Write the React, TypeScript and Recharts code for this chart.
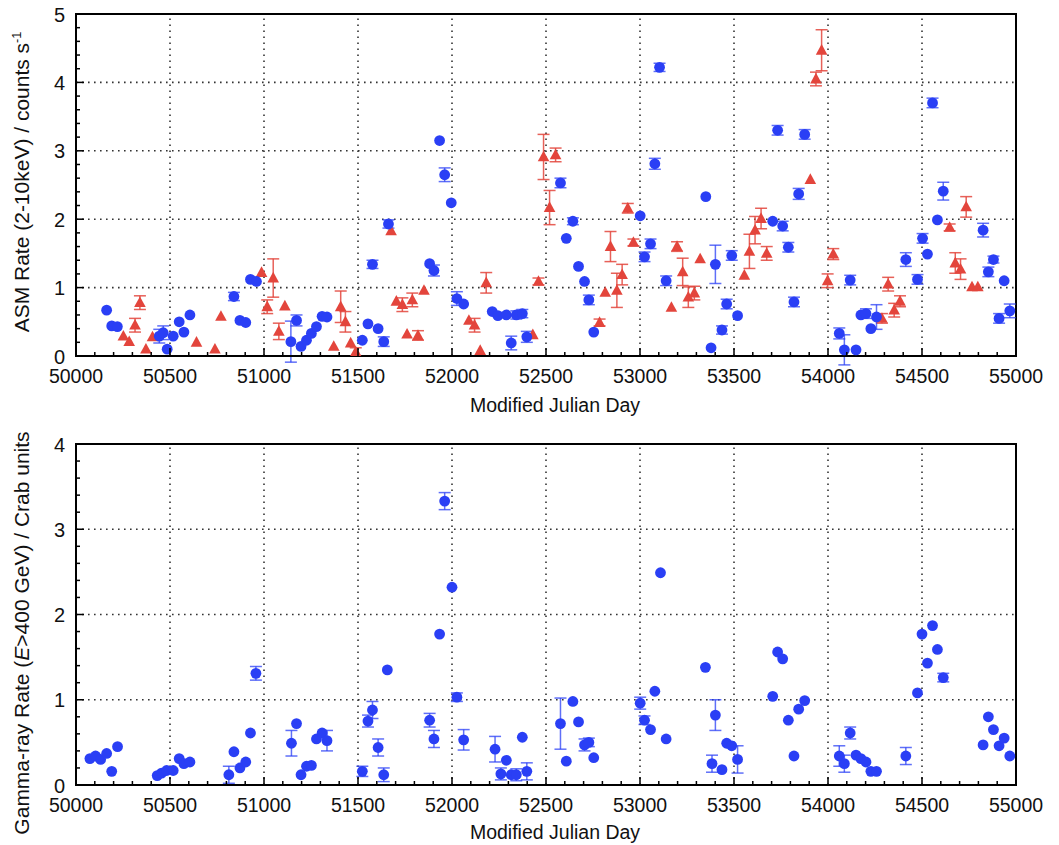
import {
  ErrorBar,
  ReferenceArea,
  ReferenceLine,
  Scatter,
  ScatterChart,
  XAxis,
  YAxis,
} from "recharts";

const FONT = "'Liberation Sans', Arial, Helvetica, sans-serif";
const BLUE = "#2a3ff5";
const RED = "#e3453c";

// ASM 2-10 keV rate, nights with TeV coverage (blue)
const asmBlueMjd = [
  50163, 50190, 50220, 50443, 50464, 50485, 50517, 50549, 50574, 50606,
  50840, 50872, 50903, 50928, 50960, 51143, 51173, 51197, 51226, 51252,
  51279, 51309, 51335, 51523, 51553, 51577, 51607, 51637, 51662, 51881,
  51904, 51934, 51961, 51996, 52026, 52062, 52214, 52244, 52289, 52315,
  52342, 52374, 52398, 52577, 52608, 52643, 52673, 52705, 52728, 52754,
  53001, 53024, 53056, 53079, 53104, 53139, 53350, 53378, 53401, 53436,
  53461, 53488, 53519, 53706, 53732, 53759, 53789, 53819, 53844, 53876,
  54060, 54087, 54118, 54149, 54175, 54202, 54228, 54258, 54414, 54476,
  54503, 54529, 54556, 54582, 54613, 54825, 54853, 54880, 54910, 54937,
  54967,
];
const asmBlueRate = [
  0.67, 0.44, 0.43, 0.29, 0.34, 0.1, 0.29, 0.5, 0.35, 0.6,
  0.87, 0.52, 0.49, 1.12, 1.09, 0.21, 0.52, 0.14, 0.23, 0.33,
  0.43, 0.58, 0.57, 0.23, 0.47, 1.34, 0.4, 0.21, 1.93, 1.35,
  1.25, 3.15, 2.65, 2.24, 0.84, 0.76, 0.65, 0.59, 0.6, 0.19,
  0.6, 0.62, 0.28, 2.53, 1.72, 1.97, 1.31, 1.09, 0.82, 0.35,
  2.05, 1.45, 1.64, 2.81, 4.22, 1.1, 2.33, 0.12, 1.34, 0.38,
  0.76, 1.47, 0.59, 1.97, 3.3, 1.9, 1.59, 0.79, 2.37, 3.24,
  0.33, 0.09, 1.11, 0.09, 0.6, 0.62, 0.4, 0.57, 1.41, 1.12,
  1.72, 1.49, 3.7, 1.99, 2.41, 1.84, 1.23, 1.41, 0.55, 1.1,
  0.66,
];
const asmBlueErr = [
  0, 0, 0, 0.1, 0.1, 0, 0, 0, 0, 0,
  0.06, 0, 0, 0, 0, 0.3, 0.08, 0, 0, 0,
  0, 0, 0, 0, 0, 0.06, 0, 0.07, 0.06, 0,
  0.08, 0, 0.1, 0, 0.1, 0, 0, 0, 0, 0.1,
  0.06, 0.06, 0.08, 0.07, 0, 0.05, 0, 0, 0.07, 0,
  0, 0.07, 0.07, 0.08, 0.06, 0.07, 0, 0, 0.28, 0.06,
  0.07, 0.07, 0, 0, 0.07, 0.07, 0.07, 0.07, 0.08, 0.07,
  0.08, 0.22, 0.07, 0, 0, 0.07, 0, 0.18, 0.1, 0.07,
  0.07, 0, 0.07, 0, 0.13, 0.1, 0.07, 0.05, 0.07, 0,
  0.1,
];

// ASM 2-10 keV rate, remaining nights (red)
const asmRedMjd = [
  50252, 50283, 50314, 50340, 50372, 50407, 50641, 50739, 50771, 50987,
  51017, 51049, 51079, 51111, 51371, 51408, 51433, 51461, 51488, 51676,
  51704, 51736, 51761, 51789, 51819, 51851, 52090, 52120, 52150, 52182,
  52430, 52460, 52487, 52519, 52551, 52785, 52815, 52843, 52877, 52905,
  52935, 52965, 53167, 53197, 53227, 53257, 53289, 53320, 53555, 53582,
  53612, 53644, 53674, 53906, 53936, 53966, 53998, 54028, 54287, 54320,
  54352, 54383, 54647, 54677, 54705, 54735, 54766, 54797,
];
const asmRedRate = [
  0.29, 0.21, 0.45, 0.78, 0.1, 0.28, 0.2, 0.1, 0.58, 1.22,
  0.72, 1.14, 0.36, 0.73, 0.14, 0.72, 0.5, 0.19, 0.06, 1.83,
  0.8, 0.75, 0.32, 0.82, 0.3, 0.96, 0.52, 0.45, 0.08, 1.07,
  0.31, 1.09, 2.91, 2.17, 2.94, 0.49, 0.93, 1.6, 0.96, 1.19,
  2.16, 1.66, 0.71, 1.6, 1.23, 0.86, 0.92, 1.42, 1.18, 1.53,
  1.84, 2.01, 1.5, 2.58, 4.05, 4.47, 1.1, 1.49, 0.55, 1.05,
  0.67, 0.8, 1.88, 1.36, 1.27, 2.18, 1.01, 1.01,
];
const asmRedErr = [
  0, 0, 0.1, 0.1, 0, 0, 0, 0, 0, 0,
  0.1, 0.28, 0.12, 0, 0, 0.23, 0.15, 0, 0.06, 0,
  0, 0.1, 0, 0.1, 0.07, 0, 0, 0.1, 0, 0.15,
  0, 0.05, 0.33, 0.25, 0.1, 0.05, 0, 0.22, 0.25, 0.15,
  0.07, 0.05, 0, 0.07, 0.2, 0.15, 0.1, 0, 0, 0.25,
  0.2, 0.15, 0.1, 0, 0.1, 0.3, 0.1, 0.08, 0.07, 0.1,
  0.1, 0.08, 0.05, 0.15, 0.15, 0.15, 0, 0,
];

// gamma-ray rate above 400 GeV in Crab units
const tevMjd = [
  50074, 50104, 50131, 50163, 50190, 50221, 50432, 50455, 50482, 50517,
  50549, 50574, 50606, 50813, 50840, 50872, 50903, 50928, 50957, 51146,
  51173, 51197, 51226, 51252, 51279, 51309, 51335, 51523, 51553, 51577,
  51607, 51637, 51656, 51881, 51904, 51934, 51961, 52000, 52026, 52062,
  52229, 52260, 52289, 52315, 52342, 52374, 52398, 52577, 52608, 52643,
  52673, 52705, 52728, 52754, 53001, 53024, 53056, 53079, 53109, 53139,
  53348, 53383, 53401, 53436, 53461, 53488, 53519, 53706, 53732, 53759,
  53789, 53819, 53844, 53876, 54060, 54087, 54118, 54149, 54175, 54202,
  54228, 54258, 54414, 54476, 54500, 54529, 54556, 54582, 54613, 54825,
  54853, 54880, 54910, 54937, 54967,
];
const tevRate = [
  0.31, 0.34, 0.3, 0.37, 0.16, 0.45, 0.11, 0.14, 0.17, 0.17,
  0.31, 0.25, 0.27, 0.12, 0.39, 0.2, 0.27, 0.61, 1.31, 0.49,
  0.72, 0.12, 0.22, 0.23, 0.54, 0.61, 0.52, 0.16, 0.75, 0.88,
  0.44, 0.12, 1.35, 0.76, 0.54, 1.77, 3.33, 2.32, 1.03, 0.53,
  0.42, 0.13, 0.29, 0.12, 0.12, 0.56, 0.16, 0.72, 0.28, 0.98,
  0.74, 0.47, 0.5, 0.32, 0.96, 0.76, 0.65, 1.1, 2.49, 0.54,
  1.38, 0.25, 0.82, 0.18, 0.49, 0.46, 0.3, 1.04, 1.56, 1.48,
  0.76, 0.34, 0.89, 0.99, 0.34, 0.25, 0.61, 0.35, 0.31, 0.27,
  0.16, 0.16, 0.34, 1.08, 1.77, 1.43, 1.87, 1.59, 1.26, 0.47,
  0.8, 0.65, 0.46, 0.55, 0.34,
];
const tevErr = [
  0, 0, 0, 0, 0, 0, 0, 0, 0, 0,
  0, 0, 0, 0.1, 0, 0, 0, 0, 0.08, 0.15,
  0, 0, 0, 0, 0, 0, 0.12, 0.06, 0.07, 0.1,
  0.1, 0.08, 0, 0.08, 0.1, 0, 0.1, 0, 0.05, 0.12,
  0.15, 0.07, 0, 0, 0.07, 0, 0.1, 0.3, 0, 0,
  0, 0.07, 0.05, 0, 0.07, 0.05, 0, 0, 0, 0,
  0, 0.1, 0.18, 0, 0, 0, 0.16, 0, 0, 0,
  0, 0, 0, 0, 0.12, 0.1, 0.07, 0, 0, 0,
  0, 0, 0.1, 0, 0, 0, 0, 0, 0.05, 0,
  0, 0, 0, 0, 0,
];

// every 100 days gets a tick, every 500 a label and a grid line
const xTicks = Array.from({ length: 51 }, (_, i) => 50000 + i * 100);
const xGrid = [50500, 51000, 51500, 52000, 52500, 53000, 53500, 54000, 54500];
const asmTicks = Array.from({ length: 26 }, (_, i) => Math.round(i * 2) / 10);
const asmGrid = [1, 2, 3, 4];
const tevTicks = Array.from({ length: 21 }, (_, i) => Math.round(i * 2) / 10);
const tevGrid = [1, 2, 3];

const toPoints = (mjd: number[], rate: number[], err: number[]) =>
  mjd.map((x, i) => ({ x, y: rate[i], err: err[i] }));

const asmBlue = toPoints(asmBlueMjd, asmBlueRate, asmBlueErr);
const asmRed = toPoints(asmRedMjd, asmRedRate, asmRedErr);
const tev = toPoints(tevMjd, tevRate, tevErr);

const BlueDot = (p: any) => <circle cx={p.cx} cy={p.cy} r={5.4} fill={BLUE} />;
const RedTriangle = (p: any) => (
  <polygon
    points={`${p.cx},${p.cy - 6.2} ${p.cx - 5.8},${p.cy + 4.4} ${p.cx + 5.8},${p.cy + 4.4}`}
    fill={RED}
  />
);

// inward tick marks; labels only on the major ones
const XTick = ({ x, y, payload }: any) => {
  const major = payload.value % 500 === 0;
  return (
    <g>
      <line x1={x} x2={x} y1={y} y2={y - (major ? 8 : 4)} stroke="#000" strokeWidth={1.5} />
      {major && (
        <text x={x} y={y + 27} textAnchor="middle" fontFamily={FONT} fontSize={19.5} fill="#111">
          {payload.value}
        </text>
      )}
    </g>
  );
};

const YTick = ({ x, y, payload }: any) => {
  const major = Math.abs(payload.value - Math.round(payload.value)) < 1e-6;
  return (
    <g>
      <line x1={x} x2={x + (major ? 8 : 4)} y1={y} y2={y} stroke="#000" strokeWidth={1.5} />
      {major && (
        <text x={x - 11} y={y + 7.5} textAnchor="end" fontFamily={FONT} fontSize={20} fill="#111">
          {payload.value}
        </text>
      )}
    </g>
  );
};

interface PanelProps {
  top: number;
  height: number;
  margin: { top: number; right: number; bottom: number; left: number };
  yMax: number;
  yTicks: number[];
  yGrid: number[];
  children: React.ReactNode;
}

function Panel({ top, height, margin, yMax, yTicks, yGrid, children }: PanelProps) {
  const dotted = { stroke: "#333", strokeWidth: 1.6, strokeDasharray: "1.6 4.4" };
  return (
    <div style={{ position: "absolute", left: 0, top }}>
      <ScatterChart width={1059} height={height} margin={margin}>
        {xGrid.map((v) => (
          <ReferenceLine key={`gx${v}`} x={v} {...dotted} />
        ))}
        {yGrid.map((v) => (
          <ReferenceLine key={`gy${v}`} y={v} {...dotted} />
        ))}
        <XAxis
          type="number"
          dataKey="x"
          domain={[50000, 55000]}
          ticks={xTicks}
          interval={0}
          height={30}
          tickSize={0}
          tickMargin={0}
          tick={<XTick />}
          tickLine={false}
          axisLine={{ stroke: "#000", strokeWidth: 2 }}
          allowDataOverflow
        />
        <YAxis
          type="number"
          dataKey="y"
          domain={[0, yMax]}
          ticks={yTicks}
          interval={0}
          width={60}
          tickSize={0}
          tickMargin={0}
          tick={<YTick />}
          tickLine={false}
          axisLine={{ stroke: "#000", strokeWidth: 2 }}
          allowDataOverflow
        />
        <ReferenceArea
          x1={50000}
          x2={55000}
          y1={0}
          y2={yMax}
          fill="none"
          stroke="#000"
          strokeWidth={2}
          ifOverflow="visible"
        />
        {children}
      </ScatterChart>
    </div>
  );
}

const xTitleStyle: React.CSSProperties = {
  position: "absolute",
  transform: "translate(-50%, -50%)",
  fontFamily: FONT,
  fontSize: 19.5,
  color: "#111",
  whiteSpace: "nowrap",
};

const yTitleStyle: React.CSSProperties = {
  position: "absolute",
  transform: "translate(-50%, -50%) rotate(-90deg)",
  fontFamily: FONT,
  fontSize: 21,
  color: "#111",
  whiteSpace: "nowrap",
};

export default function App() {
  return (
    <div style={{ position: "absolute", left: 0, top: 0, width: 1059, height: 845, background: "#fff" }}>
      <Panel
        top={0}
        height={420}
        margin={{ top: 14, right: 43, bottom: 34, left: 16 }}
        yMax={5}
        yTicks={asmTicks}
        yGrid={asmGrid}
      >
        <Scatter data={asmRed} shape={RedTriangle} isAnimationActive={false}>
          <ErrorBar dataKey="err" direction="y" width={6} stroke={RED} strokeWidth={1.5} strokeOpacity={0.85} />
        </Scatter>
        <Scatter data={asmBlue} shape={BlueDot} isAnimationActive={false}>
          <ErrorBar dataKey="err" direction="y" width={6} stroke={BLUE} strokeWidth={1.5} strokeOpacity={0.75} />
        </Scatter>
      </Panel>
      <Panel
        top={420}
        height={425}
        margin={{ top: 24, right: 43, bottom: 30, left: 16 }}
        yMax={4}
        yTicks={tevTicks}
        yGrid={tevGrid}
      >
        <Scatter data={tev} shape={BlueDot} isAnimationActive={false}>
          <ErrorBar dataKey="err" direction="y" width={6} stroke={BLUE} strokeWidth={1.5} strokeOpacity={0.75} />
        </Scatter>
      </Panel>

      <div style={{ ...xTitleStyle, left: 555, top: 405 }}>Modified Julian Day</div>
      <div style={{ ...xTitleStyle, left: 555, top: 832 }}>Modified Julian Day</div>
      <div style={{ ...yTitleStyle, left: 22, top: 182 }}>
        ASM Rate (2-10keV) / counts s<sup style={{ fontSize: "0.6em" }}>-1</sup>
      </div>
      <div style={{ ...yTitleStyle, left: 22, top: 633 }}>
        Gamma-ray Rate (<i>E</i>&gt;400 GeV) / Crab units
      </div>
    </div>
  );
}
